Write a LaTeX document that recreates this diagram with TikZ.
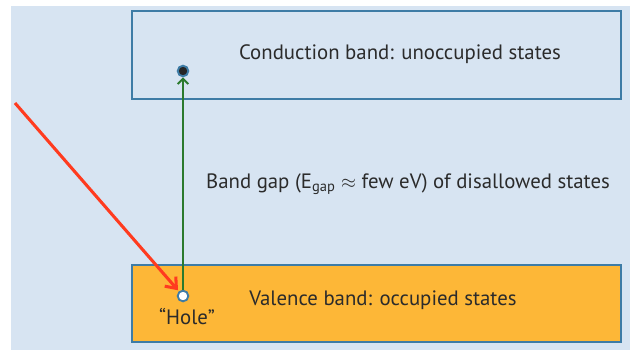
\documentclass[tikz,border=0pt]{standalone}
\usepackage{fontspec}
\setmainfont{PT Sans}
\usetikzlibrary{arrows.meta}

\definecolor{bgblue}{HTML}{D7E4F2}
\definecolor{edgeblue}{HTML}{3E7CA6}
\definecolor{bandorange}{HTML}{FDB737}
\definecolor{textgray}{HTML}{2B2B2B}
\definecolor{jumpgreen}{HTML}{2B7A2E}
\definecolor{photonred}{HTML}{FF3B1F}

\tikzset{
  band/.style={draw=edgeblue, line width=1.5pt},
  lbl/.style={text=textgray, font=\fontsize{15.6}{18}\selectfont, inner sep=0pt},
  carrier/.style={circle, draw=edgeblue, line width=1.4pt, minimum size=8pt, inner sep=0pt}
}

\begin{document}
\begin{tikzpicture}[x=0.75pt, y=-0.75pt]
        \useasboundingbox (0,0) rectangle (630,350);
        \fill[bgblue] (11,6) rectangle (630,350);

        \draw[band, fill=bgblue] (132,11) rectangle (621,99);
        \draw[band, fill=bandorange] (132,265) rectangle (621,342);

        \node[lbl] (cb) at (400,54) {Conduction band: unoccupied states};
        \node[lbl] (gap) at (408,184) {Band gap (E\textsubscript{gap} $\approx$ few eV) of disallowed states};
        \node[lbl] (vb) at (383,300) {Valence band: occupied states};
        \node[lbl] (holelabel) at (187,317) {“Hole”};

        \node[carrier, fill=black!85] (e) at (183,71) {};
        \node[carrier, fill=white] (h) at (183,296) {};
        \coordinate (photon) at (15,103);

        \draw (h) edge[jumpgreen, line width=1.5pt, -{Straight Barb[length=4pt, width=8pt]}] (e)
              (photon) edge[photonred, line width=2.3pt, shorten >=1pt, -{Straight Barb[length=7pt, width=11pt]}] (h);
    \end{tikzpicture}
\end{document}
